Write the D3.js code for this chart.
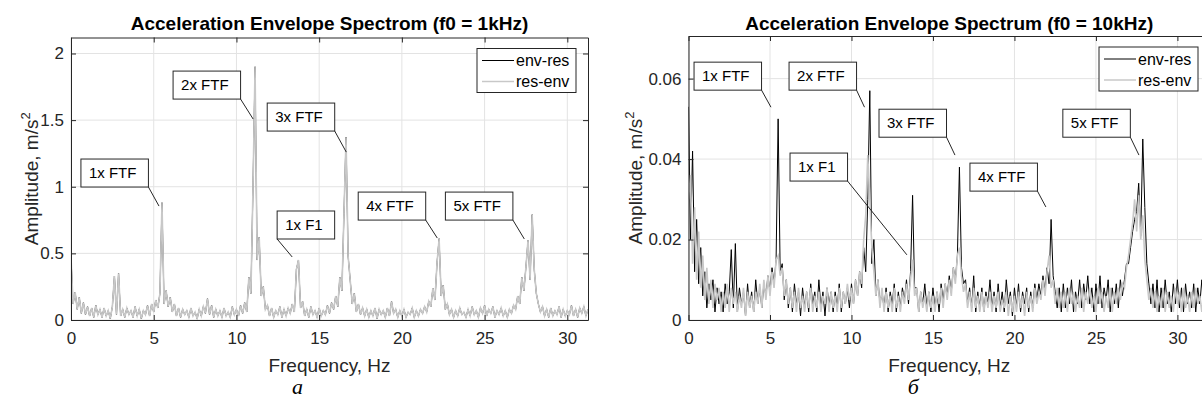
<!DOCTYPE html>
<html>
<head>
<meta charset="utf-8">
<script src="https://cdnjs.cloudflare.com/ajax/libs/d3/7.8.5/d3.min.js"></script>
<style>
    body { margin: 0; background: #fff; }
    svg text { font-family: "Liberation Sans", Arial, sans-serif; fill: #262626; }
</style>
</head>
<body>
<div id="chart"></div>
<script>
// spectrum bins are 0.125 Hz apart
var FREQ_STEP = 0.125;

// panel a (f0 = 1kHz), m/s^2
var resEnvA = [
    0.47, 0.12, 0.21, 0.08, 0.17, 0.05, 0.13, 0.04,
    0.10, 0.03, 0.09, 0.02, 0.11, 0.04, 0.08, 0.02,
    0.09, 0.03, 0.07, 0.01, 0.10, 0.33, 0.04, 0.35,
    0.03, 0.08, 0.02, 0.09, 0.04, 0.07, 0.02, 0.10,
    0.03, 0.08, 0.01, 0.07, 0.04, 0.11, 0.03, 0.12,
    0.06, 0.15, 0.09, 0.20, 0.88, 0.12, 0.22, 0.10,
    0.17, 0.06, 0.12, 0.03, 0.09, 0.02, 0.08, 0.04,
    0.07, 0.02, 0.09, 0.03, 0.06, 0.01, 0.08, 0.03,
    0.10, 0.05, 0.16, 0.04, 0.11, 0.02, 0.08, 0.03,
    0.07, 0.02, 0.09, 0.03, 0.06, 0.02, 0.10, 0.04,
    0.08, 0.03, 0.11, 0.05, 0.13, 0.06, 0.32, 0.20,
    0.99, 1.90, 0.45, 0.62, 0.18, 0.25, 0.08, 0.11,
    0.03, 0.09, 0.02, 0.07, 0.04, 0.10, 0.02, 0.08,
    0.03, 0.09, 0.05, 0.12, 0.06, 0.38, 0.45, 0.09,
    0.14, 0.03, 0.08, 0.02, 0.10, 0.04, 0.07, 0.02,
    0.09, 0.03, 0.07, 0.04, 0.11, 0.05, 0.13, 0.08,
    0.18, 0.10, 0.32, 0.22, 0.80, 1.37, 0.48, 0.30,
    0.12, 0.20, 0.06, 0.12, 0.04, 0.09, 0.03, 0.08,
    0.02, 0.07, 0.03, 0.09, 0.01, 0.08, 0.04, 0.07,
    0.02, 0.09, 0.03, 0.14, 0.05, 0.08, 0.02, 0.07,
    0.03, 0.08, 0.02, 0.06, 0.04, 0.09, 0.02, 0.07,
    0.03, 0.08, 0.05, 0.10, 0.06, 0.14, 0.10, 0.24,
    0.15, 0.43, 0.61, 0.18, 0.26, 0.08, 0.12, 0.04,
    0.08, 0.02, 0.07, 0.03, 0.09, 0.04, 0.06, 0.02,
    0.08, 0.03, 0.10, 0.04, 0.07, 0.02, 0.09, 0.05,
    0.11, 0.03, 0.08, 0.05, 0.10, 0.02, 0.07, 0.04,
    0.09, 0.03, 0.07, 0.02, 0.08, 0.05, 0.11, 0.08,
    0.18, 0.12, 0.32, 0.22, 0.40, 0.60, 0.30, 0.79,
    0.38, 0.20, 0.12, 0.06, 0.10, 0.03, 0.08, 0.02,
    0.09, 0.03, 0.07, 0.04, 0.10, 0.02, 0.08, 0.03,
    0.07, 0.04, 0.11, 0.03, 0.08, 0.02, 0.09, 0.05,
    0.10, 0.03, 0.08
];
// env-res lies completely under res-env in panel a
var envResA = resEnvA;

// panel b (f0 = 10kHz), m/s^2
var envResB = [
    0.053, 0.020, 0.042, 0.012, 0.025, 0.009, 0.018, 0.006,
    0.012, 0.003, 0.009, 0.005, 0.010, 0.002, 0.008, 0.004,
    0.007, 0.002, 0.009, 0.004, 0.007, 0.0175, 0.003, 0.019,
    0.002, 0.008, 0.004, 0.007, 0.001, 0.009, 0.003, 0.007,
    0.002, 0.010, 0.004, 0.008, 0.003, 0.009, 0.006, 0.011,
    0.007, 0.013, 0.009, 0.015, 0.050, 0.012, 0.014, 0.005,
    0.010, 0.003, 0.008, 0.002, 0.009, 0.004, 0.007, 0.001,
    0.008, 0.003, 0.007, 0.002, 0.009, 0.004, 0.007, 0.002,
    0.010, 0.003, 0.007, 0.001, 0.008, 0.004, 0.007, 0.002,
    0.007, 0.003, 0.009, 0.002, 0.007, 0.004, 0.008, 0.003,
    0.009, 0.004, 0.010, 0.006, 0.012, 0.008, 0.018, 0.012,
    0.030, 0.057, 0.014, 0.020, 0.006, 0.010, 0.004, 0.007,
    0.003, 0.008, 0.002, 0.007, 0.004, 0.009, 0.002, 0.007,
    0.003, 0.008, 0.005, 0.010, 0.004, 0.012, 0.031, 0.008,
    0.008, 0.002, 0.007, 0.004, 0.009, 0.003, 0.007, 0.002,
    0.008, 0.003, 0.007, 0.002, 0.009, 0.005, 0.009, 0.006,
    0.011, 0.007, 0.013, 0.010, 0.016, 0.038, 0.013, 0.009,
    0.010, 0.004, 0.008, 0.003, 0.011, 0.002, 0.007, 0.003,
    0.008, 0.002, 0.007, 0.004, 0.010, 0.003, 0.007, 0.002,
    0.009, 0.003, 0.007, 0.002, 0.010, 0.004, 0.007, 0.001,
    0.008, 0.003, 0.009, 0.002, 0.007, 0.004, 0.008, 0.002,
    0.007, 0.003, 0.009, 0.005, 0.009, 0.006, 0.011, 0.007,
    0.013, 0.009, 0.025, 0.011, 0.007, 0.003, 0.008, 0.002,
    0.009, 0.003, 0.008, 0.004, 0.010, 0.002, 0.007, 0.004,
    0.010, 0.003, 0.009, 0.005, 0.011, 0.004, 0.008, 0.002,
    0.009, 0.004, 0.011, 0.003, 0.008, 0.005, 0.010, 0.002,
    0.008, 0.004, 0.009, 0.003, 0.010, 0.006, 0.010, 0.014,
    0.014, 0.018, 0.022, 0.025, 0.027, 0.034, 0.021, 0.045,
    0.028, 0.014, 0.009, 0.004, 0.009, 0.003, 0.010, 0.002,
    0.008, 0.003, 0.010, 0.004, 0.007, 0.002, 0.009, 0.004,
    0.010, 0.003, 0.008, 0.002, 0.009, 0.004, 0.007, 0.003,
    0.009, 0.002, 0.008, 0.004, 0.010, 0.003, 0.007, 0.002,
    0.008
];
var resEnvB = [
    0.030, 0.036, 0.014, 0.028, 0.010, 0.022, 0.008, 0.016,
    0.005, 0.013, 0.004, 0.010, 0.003, 0.009, 0.005, 0.008,
    0.002, 0.007, 0.003, 0.009, 0.002, 0.008, 0.004, 0.007,
    0.002, 0.006, 0.003, 0.008, 0.001, 0.007, 0.003, 0.006,
    0.002, 0.007, 0.004, 0.009, 0.003, 0.010, 0.005, 0.011,
    0.006, 0.012, 0.008, 0.015, 0.016, 0.011, 0.013, 0.006,
    0.010, 0.004, 0.008, 0.003, 0.007, 0.002, 0.008, 0.003,
    0.006, 0.002, 0.007, 0.003, 0.008, 0.002, 0.006, 0.003,
    0.007, 0.002, 0.006, 0.004, 0.008, 0.002, 0.007, 0.003,
    0.006, 0.002, 0.008, 0.003, 0.007, 0.004, 0.009, 0.005,
    0.008, 0.004, 0.010, 0.006, 0.012, 0.009, 0.020, 0.026,
    0.041, 0.030, 0.018, 0.012, 0.006, 0.010, 0.003, 0.008,
    0.002, 0.007, 0.003, 0.006, 0.002, 0.008, 0.003, 0.006,
    0.002, 0.007, 0.004, 0.009, 0.005, 0.010, 0.015, 0.006,
    0.008, 0.002, 0.007, 0.003, 0.006, 0.002, 0.007, 0.003,
    0.006, 0.002, 0.007, 0.004, 0.008, 0.003, 0.009, 0.005,
    0.010, 0.006, 0.013, 0.009, 0.016, 0.018, 0.011, 0.007,
    0.009, 0.003, 0.007, 0.002, 0.008, 0.003, 0.006, 0.002,
    0.007, 0.002, 0.006, 0.003, 0.007, 0.002, 0.006, 0.003,
    0.007, 0.002, 0.005, 0.003, 0.007, 0.001, 0.006, 0.002,
    0.006, 0.002, 0.007, 0.003, 0.006, 0.001, 0.007, 0.003,
    0.006, 0.002, 0.008, 0.004, 0.007, 0.005, 0.010, 0.006,
    0.012, 0.016, 0.008, 0.010, 0.004, 0.008, 0.003, 0.007,
    0.003, 0.007, 0.002, 0.008, 0.004, 0.007, 0.002, 0.006,
    0.003, 0.008, 0.002, 0.007, 0.004, 0.008, 0.003, 0.006,
    0.002, 0.008, 0.004, 0.007, 0.002, 0.006, 0.003, 0.008,
    0.002, 0.007, 0.004, 0.008, 0.005, 0.009, 0.008, 0.013,
    0.016, 0.020, 0.024, 0.030, 0.022, 0.031, 0.020, 0.026,
    0.015, 0.010, 0.005, 0.008, 0.003, 0.007, 0.002, 0.006,
    0.003, 0.008, 0.002, 0.007, 0.003, 0.006, 0.002, 0.008,
    0.004, 0.007, 0.002, 0.008, 0.003, 0.006, 0.002, 0.007,
    0.003, 0.008, 0.004, 0.006, 0.002, 0.007, 0.003, 0.008,
    0.004
];

var ticksX = [0, 5, 10, 15, 20, 25, 30];
var ticksYA = [0, 0.5, 1, 1.5, 2];
var ticksYB = [0, 0.02, 0.04, 0.06];
var seriesNames = ["env-res", "res-env"];

// text boxes: label, box top-left corner and arrow tip, in data units
var notesA = ["2x FTF", "3x FTF", "1x FTF", "1x F1", "4x FTF", "5x FTF"];
var notesABox = [[6.17, 1.868], [11.86, 1.628], [0.6, 1.208], [12.46, 0.818], [17.36, 0.96], [22.63, 0.96]];
var notesATip = [[11.01, 1.508], [16.64, 1.26], [5.32, 0.855], [13.37, 0.473], [22.14, 0.615], [27.4, 0.608]];
var notesB = ["1x FTF", "2x FTF", "3x FTF", "1x F1", "4x FTF", "5x FTF"];
var notesBBox = [[0.34, 0.0641], [6.17, 0.0641], [11.69, 0.0524], [6.23, 0.0415], [17.27, 0.039], [22.97, 0.0524]];
var notesBTip = [[5.06, 0.0529], [10.8, 0.0529], [16.35, 0.041], [13.4, 0.0162], [21.93, 0.0281], [27.64, 0.041]];

var AXIS = "#262626", GRID = "#e3e3e3", GREY = "#c8c8c8";

var svg = d3.select("#chart").append("svg")
    .attr("width", 1202)
    .attr("height", 401);

draw_panel({
    id: "a", left: 71, right: 588, top: 37.5, bottom: 320,
    xMax: 31.25, yMax: 2.12, ticksY: ticksYA,
    black: envResA, grey: resEnvA, greyWidth: 1.6,
    title: "Acceleration Envelope Spectrom (f0 = 1kHz)",
    letter: "а", letterShift: -32, labelX: 38,
    notes: notesA, boxes: notesABox, tips: notesATip
});
draw_panel({
    id: "b", left: 688.5, right: 1210, top: 36, bottom: 320,
    xMax: 32, yMax: 0.0706, ticksY: ticksYB,
    black: envResB, grey: resEnvB, greyWidth: 1.6,
    title: "Acceleration Envelope Spectrum (f0 = 10kHz)",
    letter: "б", letterShift: -36, labelX: 642,
    notes: notesB, boxes: notesBBox, tips: notesBTip
});

function draw_panel(p) {
    var x = d3.scaleLinear().domain([0, p.xMax]).range([p.left, p.right]);
    var y = d3.scaleLinear().domain([0, p.yMax]).range([p.bottom, p.top]);
    var g = svg.append("g");
    var cx = (p.left + p.right) / 2;

    g.append("clipPath").attr("id", "clip-" + p.id)
        .append("rect")
        .attr("x", p.left).attr("y", p.top)
        .attr("width", p.right - p.left).attr("height", p.bottom - p.top);

    // grid
    g.append("g").selectAll("line").data(ticksX).enter().append("line")
        .attr("x1", function (d) { return x(d); }).attr("x2", function (d) { return x(d); })
        .attr("y1", p.top).attr("y2", p.bottom)
        .attr("stroke", GRID);
    g.append("g").selectAll("line").data(p.ticksY).enter().append("line")
        .attr("x1", p.left).attr("x2", p.right)
        .attr("y1", function (d) { return y(d); }).attr("y2", function (d) { return y(d); })
        .attr("stroke", GRID);

    // spectra, grey drawn over black
    var line = d3.line()
        .x(function (d, i) { return x(i * FREQ_STEP); })
        .y(function (d) { return y(d); });
    var plot = g.append("g").attr("clip-path", "url(#clip-" + p.id + ")");
    plot.append("path").datum(p.black)
        .attr("d", line).attr("fill", "none")
        .attr("stroke", "#000").attr("stroke-width", 1);
    plot.append("path").datum(p.grey)
        .attr("d", line).attr("fill", "none")
        .attr("stroke", GREY).attr("stroke-width", p.greyWidth);

    // axes with inward ticks on all four sides
    var fmt = function (d) { return String(d); };
    g.append("g").attr("transform", "translate(0," + p.bottom + ")")
        .call(d3.axisBottom(x).tickValues(ticksX).tickFormat(fmt).tickSizeInner(-5).tickSizeOuter(0).tickPadding(12));
    g.append("g").attr("transform", "translate(0," + p.top + ")")
        .call(d3.axisTop(x).tickValues(ticksX).tickFormat("").tickSizeInner(-5).tickSizeOuter(0));
    g.append("g").attr("transform", "translate(" + p.left + ",0)")
        .call(d3.axisLeft(y).tickValues(p.ticksY).tickFormat(fmt).tickSizeInner(-5).tickSizeOuter(0).tickPadding(7));
    g.append("g").attr("transform", "translate(" + p.right + ",0)")
        .call(d3.axisRight(y).tickValues(p.ticksY).tickFormat("").tickSizeInner(-5).tickSizeOuter(0));
    g.selectAll(".domain, .tick line").attr("stroke", AXIS);
    g.selectAll(".tick text")
        .style("font-family", "Liberation Sans, Arial, sans-serif")
        .style("font-size", "17px").attr("fill", AXIS);

    // titles and labels
    g.append("text").attr("x", cx).attr("y", 30)
        .attr("text-anchor", "middle")
        .style("font-size", "19px").style("font-weight", "bold")
        .style("fill", "#000")
        .text(p.title);
    g.append("text").attr("x", cx).attr("y", 372)
        .attr("text-anchor", "middle")
        .style("font-size", "19px")
        .text("Frequency, Hz");
    var yl = g.append("text")
        .attr("transform", "translate(" + p.labelX + "," + (p.top + p.bottom) / 2 + ")rotate(-90)")
        .attr("text-anchor", "middle")
        .style("font-size", "19px");
    yl.append("tspan").text("Amplitude, m/s");
    yl.append("tspan").attr("dy", -8).style("font-size", "13px").text("2");
    g.append("text").attr("x", cx + p.letterShift).attr("y", 394)
        .attr("text-anchor", "middle")
        .style("font-family", "Liberation Serif, Times New Roman, serif")
        .style("font-style", "italic")
        .style("font-size", "22px")
        .style("fill", "#000")
        .text(p.letter);

    // legend, north-east
    var lw = 99, lh = 44, lx = p.right - 12 - lw, ly = p.top + 11;
    var leg = g.append("g").attr("transform", "translate(" + lx + "," + ly + ")");
    leg.append("rect").attr("width", lw).attr("height", lh)
        .attr("fill", "#fff").attr("stroke", AXIS);
    leg.selectAll("line").data(seriesNames).enter().append("line")
        .attr("x1", 5).attr("x2", 37)
        .attr("y1", function (d, i) { return 12 + i * 21; })
        .attr("y2", function (d, i) { return 12 + i * 21; })
        .attr("stroke", function (d, i) { return i == 0 ? "#000" : GREY; })
        .attr("stroke-width", function (d, i) { return i == 0 ? 1 : 1.5; });
    leg.selectAll("text").data(seriesNames).enter().append("text")
        .attr("x", 39)
        .attr("y", function (d, i) { return 12 + i * 21; })
        .attr("dy", "0.35em")
        .style("font-size", "16px")
        .style("fill", "#000")
        .text(function (d) { return d; });

    // annotations
    var bh = 28;
    p.notes.forEach(function (label, i) {
        var bx = x(p.boxes[i][0]), by = y(p.boxes[i][1]);
        var tx = x(p.tips[i][0]), ty = y(p.tips[i][1]);
        var t = g.append("text")
            .attr("x", bx + 8).attr("y", by + bh / 2)
            .attr("dy", "0.35em")
            .style("font-size", "15px")
            .style("fill", "#000")
            .text(label);
        var bw = t.node().getComputedTextLength() + 20;
        g.insert("rect", function () { return t.node(); })
            .attr("x", bx).attr("y", by)
            .attr("width", bw).attr("height", bh)
            .attr("fill", "#fff").attr("stroke", AXIS);
        var sx = tx < bx + bw ? bx : bx + bw;
        g.append("line")
            .attr("x1", sx).attr("y1", by + bh)
            .attr("x2", tx).attr("y2", ty)
            .attr("stroke", AXIS);
    });
}
</script>
</body>
</html>
